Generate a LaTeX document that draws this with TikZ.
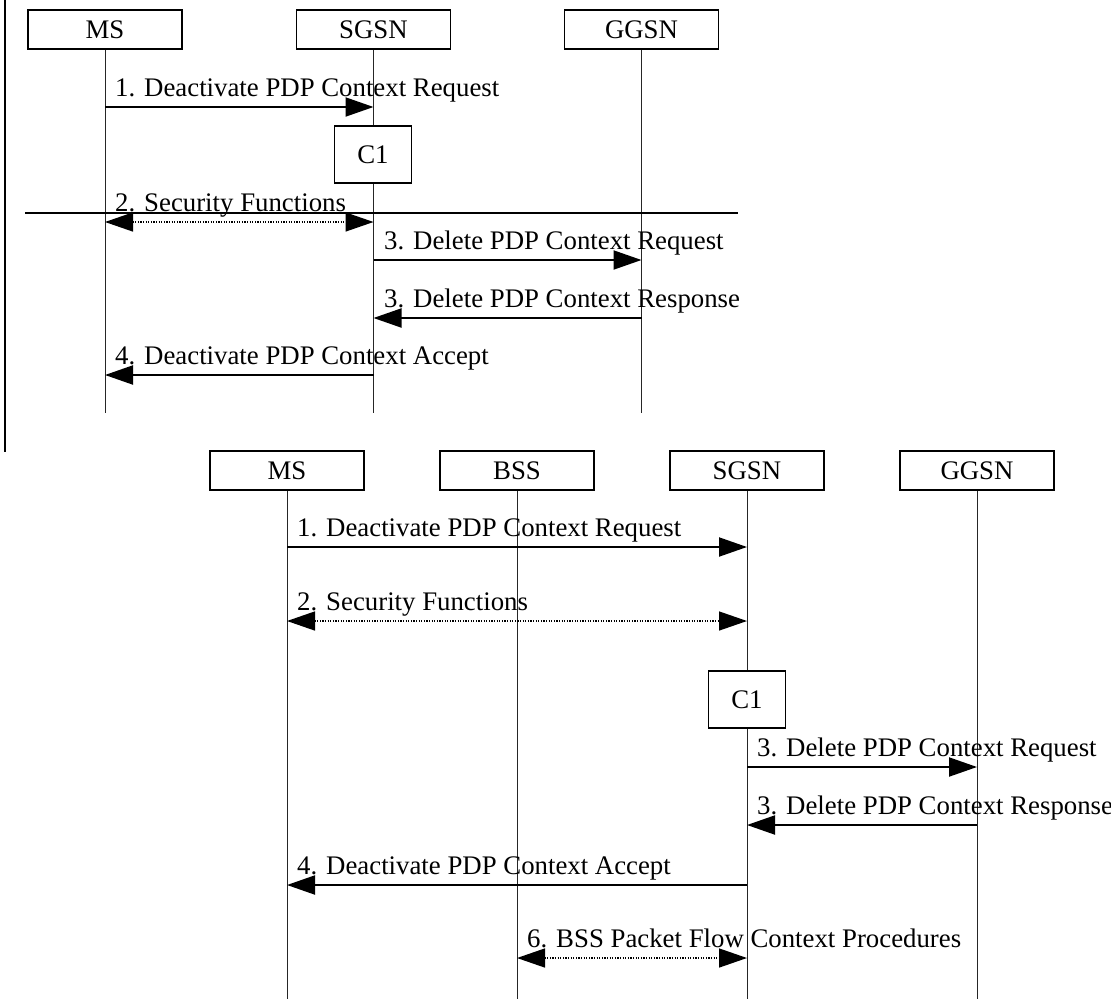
\documentclass[tikz,border=0pt]{standalone}
\usepackage{fontspec}
\setmainfont{Liberation Serif}
\usetikzlibrary{arrows.meta}
\begin{document}
\begin{tikzpicture}[x=1pt,y=-1pt,
  txt/.style={font=\fontsize{26.8}{30}\selectfont},
  ent/.style={txt,draw,line width=1.5pt,fill=white,minimum width=154pt,minimum height=39pt,inner sep=0pt},
  cbox/.style={txt,draw,line width=1.5pt,fill=white,minimum width=77pt,minimum height=57pt,inner sep=0pt},
  life/.style={line width=0.9pt,draw=black!85},
  msg/.style={line width=2pt,-{Triangle[length=28pt,width=19pt]}},
  dmsg/.style={line width=1.4pt,dash pattern=on 1.2pt off 1.4pt,{Triangle[length=28pt,width=19pt]}-{Triangle[length=28pt,width=19pt]}},
  lbl/.style={txt,anchor=base west,inner sep=0pt}]
\useasboundingbox (0,0) rectangle (1111,999);

% ---------- top diagram ----------
\coordinate (bl1) at (5,0);
\coordinate (bl2) at (5,452);
\draw[line width=2pt] (bl1) -- (bl2);

\coordinate (tMSb) at (105,413);
\coordinate (tSGb) at (373.5,413);
\coordinate (tGGb) at (641.5,413);
\node[ent] (tMS) at (105,29.5) {MS};
\node[ent] (tSG) at (373.5,29.5) {SGSN};
\node[ent] (tGG) at (641.5,29.5) {GGSN};
\draw[life] (tMS.south) -- (tMSb);
\draw[life] (tSG.south) -- (tSGb);
\draw[life] (tGG.south) -- (tGGb);

\node[cbox] (tC1) at (373,154.5) {C1};

\coordinate (sepL) at (25,213);
\coordinate (sepR) at (738,213);
\draw[line width=2pt] (sepL) -- (sepR);

\coordinate (t1a) at (105,107);  \coordinate (t1b) at (373.5,107);
\coordinate (t2a) at (105,222);  \coordinate (t2b) at (373.5,222);
\coordinate (t3a) at (373.5,260); \coordinate (t3b) at (641.5,260);
\coordinate (t4a) at (641.5,318); \coordinate (t4b) at (373.5,318);
\coordinate (t5a) at (373.5,375); \coordinate (t5b) at (105,375);

\draw[msg] (t1a) -- (t1b);
\node[lbl] (tl1) at (115,96) {1. Deactivate PDP Context Request};
\draw[dmsg] (t2a) -- (t2b);
\node[lbl] (tl2) at (115,211) {2. Security Functions};
\draw[msg] (t3a) -- (t3b);
\node[lbl] (tl3) at (384,249) {3. Delete PDP Context Request};
\draw[msg] (t4a) -- (t4b);
\node[lbl] (tl4) at (384,307) {3. Delete PDP Context Response};
\draw[msg] (t5a) -- (t5b);
\node[lbl] (tl5) at (115,364) {4. Deactivate PDP Context Accept};

% ---------- bottom diagram ----------
\node[ent] (bMS) at (287,470.5) {MS};
\node[ent] (bBS) at (517,470.5) {BSS};
\node[ent] (bSG) at (747,470.5) {SGSN};
\node[ent] (bGG) at (977,470.5) {GGSN};
\coordinate (bMSb) at (287,999);
\coordinate (bBSb) at (517,999);
\coordinate (bSGb) at (747,999);
\coordinate (bGGb) at (977,999);
\draw[life] (bMS.south) -- (bMSb);
\draw[life] (bBS.south) -- (bBSb);
\draw[life] (bSG.south) -- (bSGb);
\draw[life] (bGG.south) -- (bGGb);

\node[cbox] (bC1) at (747,699.5) {C1};

\coordinate (b1a) at (287,547); \coordinate (b1b) at (747,547);
\coordinate (b2a) at (287,621); \coordinate (b2b) at (747,621);
\coordinate (b3a) at (747,767); \coordinate (b3b) at (977,767);
\coordinate (b4a) at (977,825); \coordinate (b4b) at (747,825);
\coordinate (b5a) at (747,885); \coordinate (b5b) at (287,885);
\coordinate (b6a) at (517,958); \coordinate (b6b) at (747,958);

\draw[msg] (b1a) -- (b1b);
\node[lbl] (bl1t) at (297,536) {1. Deactivate PDP Context Request};
\draw[dmsg] (b2a) -- (b2b);
\node[lbl] (bl2t) at (297,610) {2. Security Functions};
\draw[msg] (b3a) -- (b3b);
\node[lbl] (bl3t) at (757,756) {3. Delete PDP Context Request};
\draw[msg] (b4a) -- (b4b);
\node[lbl] (bl4t) at (757,814) {3. Delete PDP Context Response};
\draw[msg] (b5a) -- (b5b);
\node[lbl] (bl5t) at (297,874) {4. Deactivate PDP Context Accept};
\draw[dmsg] (b6a) -- (b6b);
\node[lbl] (bl6t) at (527,947) {6. BSS Packet Flow Context Procedures};
\end{tikzpicture}
\end{document}
